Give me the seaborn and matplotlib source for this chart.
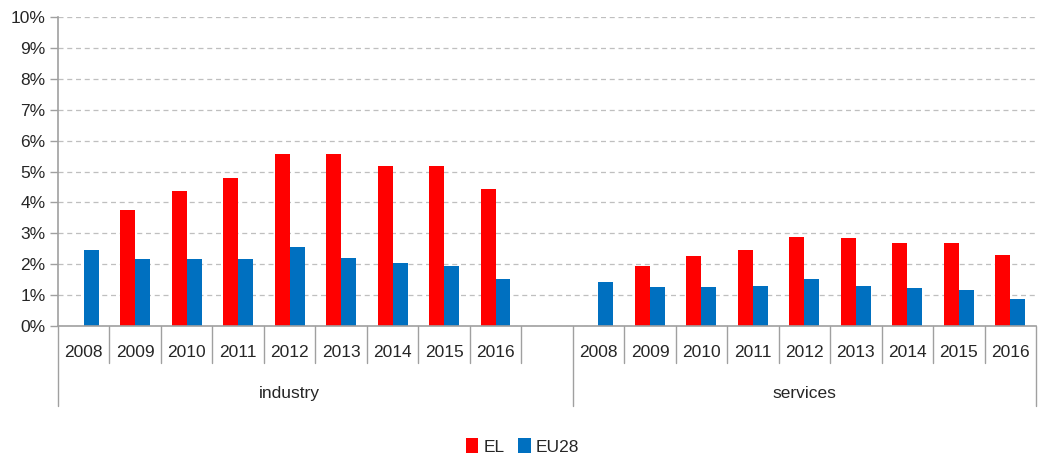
import numpy as np
import pandas as pd
import matplotlib.pyplot as plt
import matplotlib.transforms as mtransforms
import seaborn as sns

# data (share, %)
years = ['2008', '2009', '2010', '2011', '2012', '2013', '2014', '2015', '2016']
sectors = ['industry', 'services']
el_industry = [np.nan, 3.76, 4.37, 4.79, 5.57, 5.57, 5.19, 5.19, 4.44]
eu_industry = [2.47, 2.17, 2.17, 2.17, 2.56, 2.21, 2.04, 1.95, 1.52]
el_services = [np.nan, 1.95, 2.25, 2.47, 2.89, 2.86, 2.69, 2.69, 2.30]
eu_services = [1.43, 1.26, 1.26, 1.31, 1.52, 1.31, 1.22, 1.18, 0.87]
series = ['EL', 'EU28']
colors = ['#FF0000', '#0070C0']

rows = []
for sec, el, eu in [('industry', el_industry, eu_industry), ('services', el_services, eu_services)]:
    for y, a, b in zip(years, el, eu):
        rows.append({'slot': sec + ' ' + y, 'country': 'EL', 'value': a / 100})
        rows.append({'slot': sec + ' ' + y, 'country': 'EU28', 'value': b / 100})
df = pd.DataFrame(rows)

# one empty slot between the two sectors
order = ['industry ' + y for y in years] + ['gap'] + ['services ' + y for y in years]

sns.set_style('white')
plt.rcParams['font.family'] = ['Liberation Sans', 'DejaVu Sans']
txt = '#262626'

fig = plt.figure(figsize=(10.38, 4.57), dpi=100)
ax = fig.add_axes([58 / 1038, 1 - 326 / 457, 978 / 1038, 309 / 457])

sns.barplot(data=df, x='slot', y='value', hue='country', order=order, hue_order=series,
            palette=colors, width=0.58, gap=0, saturation=1, linewidth=0, edgecolor='none',
            ax=ax, legend=True)

ax.set_ylim(0, 0.10)
ax.set_xlim(-0.5, len(order) - 0.5)
ax.set_yticks(np.arange(0, 0.101, 0.01))
ax.set_yticklabels([f'{i}%' for i in range(11)], fontsize=12.5, color=txt)
ax.yaxis.grid(True, linestyle=(0, (4, 3)), color='#BFBFBF', linewidth=0.9)
ax.set_axisbelow(True)
ax.tick_params(axis='y', length=6, color='#A0A0A0', width=1, direction='out', left=True, pad=3)

for s in ['top', 'right']:
    ax.spines[s].set_visible(False)
for s in ['left', 'bottom']:
    ax.spines[s].set_color('#A0A0A0')
    ax.spines[s].set_linewidth(1.2)

# year labels and separators
labels = years + [''] + years
ax.set_xticks(range(len(order)))
ax.set_xticklabels(labels, fontsize=12.5, color=txt)
ax.tick_params(axis='x', length=0, pad=14)
ax.set_xlabel('')
ax.set_ylabel('')

trans = mtransforms.blended_transform_factory(ax.transData, ax.transAxes)
for i in range(len(order) + 1):
    x = i - 0.5
    if i in (0, 10, 19):
        y_end = -0.26
    else:
        y_end = -0.12
    ax.plot([x, x], [0, y_end], transform=trans, color='#A0A0A0', lw=1, clip_on=False)

ax.text(4, -0.22, 'industry', transform=trans, ha='center', va='center', fontsize=12.5, color=txt)
ax.text(14, -0.22, 'services', transform=trans, ha='center', va='center', fontsize=12.5, color=txt)

ax.legend(loc='center', bbox_to_anchor=(0.475, -0.39), ncol=2, frameon=False,
          fontsize=12.5, handlelength=0.7, handleheight=0.9, handletextpad=0.3, columnspacing=0.8)
for t in ax.get_legend().get_texts():
    t.set_color(txt)

fig.savefig('out.png', dpi=100)
